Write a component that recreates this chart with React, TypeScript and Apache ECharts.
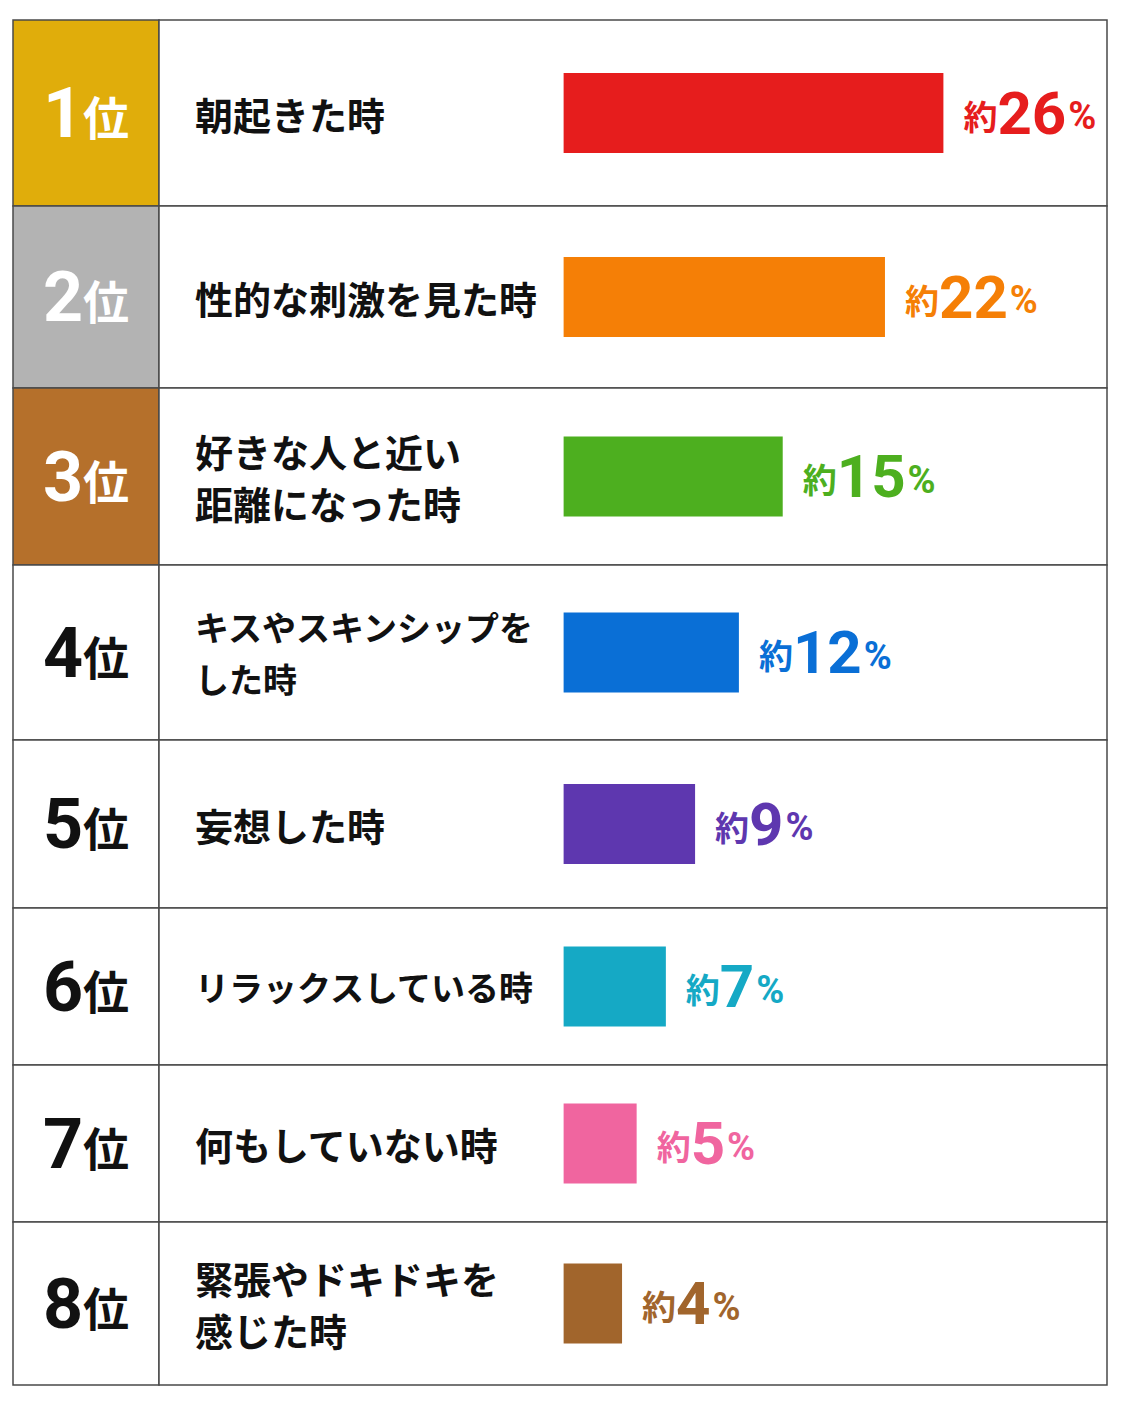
import React, { useEffect, useRef } from "react";
import * as echarts from "echarts";

// ---- data ----
const ranks = ["1", "2", "3", "4", "5", "6", "7", "8"];
const rankSuffix = "位";
const categories = [
  "朝起きた時",
  "性的な刺激を見た時",
  "好きな人と近い\n距離になった時",
  "キスやスキンシップを\nした時",
  "妄想した時",
  "リラックスしている時",
  "何もしていない時",
  "緊張やドキドキを\n感じた時",
];
const values = [26, 22, 15, 12, 9, 7, 5, 4];
const valuePrefix = "約";
const valueSuffix = "%";

// ---- styles ----
const barColors = ["#E61D1D", "#F57F06", "#4DAF1F", "#0A6FD6", "#5E37AF", "#15A9C5", "#F0659F", "#A1652C"];
const rankFill = ["#E0AD0B", "#B3B3B3", "#B5702B", "#FFFFFF", "#FFFFFF", "#FFFFFF", "#FFFFFF", "#FFFFFF"];
const rankText = ["#FFFFFF", "#FFFFFF", "#FFFFFF", "#111111", "#111111", "#111111", "#111111", "#111111"];
const rowEdges = [20, 206, 388, 565, 740, 908, 1065, 1222, 1385];

const JP = "'Noto Sans CJK JP', 'Noto Sans', sans-serif";
const NUM = "Roboto, 'Noto Sans', sans-serif";
const BORDER = "#4a4a4a";

export default function App() {
  const ref = useRef<HTMLDivElement>(null);
  useEffect(() => {
    document.body.style.margin = "0";
    const chart = echarts.init(ref.current!, null, { renderer: "svg" });
    const grid: any[] = [];
    const xAxis: any[] = [];
    const yAxis: any[] = [];
    const series: any[] = [];
    categories.forEach((cat, i) => {
      const top = rowEdges[i];
      const height = rowEdges[i + 1] - rowEdges[i];
      // rank cell grid
      grid.push({
        left: 13, width: 146, top, height, show: true,
        backgroundColor: rankFill[i], borderColor: BORDER, borderWidth: 1.5,
      });
      // main grid
      grid.push({
        left: 159, width: 948, top, height, show: true,
        backgroundColor: "#FFFFFF", borderColor: BORDER, borderWidth: 1.5,
      });
      const rg = i * 2;
      const mg = i * 2 + 1;
      xAxis.push({ type: "value", gridIndex: rg, min: 0, max: 1, show: false });
      xAxis.push({ type: "value", gridIndex: mg, min: -27.7, max: 37.2, show: false });
      yAxis.push({
        type: "category", gridIndex: rg, data: [ranks[i]],
        axisLine: { show: false }, axisTick: { show: false }, splitLine: { show: false },
        axisLabel: {
          inside: true, margin: 73, align: "center", interval: 0,
          formatter: (v: string) => `{d|${v}}{w|${rankSuffix}}`,
          rich: {
            d: { fontSize: 70, fontWeight: "bold", fontFamily: NUM, color: rankText[i] },
            w: { fontSize: 46, fontWeight: "bold", fontFamily: JP, color: rankText[i], verticalAlign: "bottom", padding: [0, 0, 10, 0] },
          },
        },
      });
      yAxis.push({
        type: "category", gridIndex: mg, data: [cat],
        axisLine: { show: false }, axisTick: { show: false }, splitLine: { show: false },
        axisLabel: {
          inside: true, margin: 36, align: "left", interval: 0,
          formatter: (v: string) => {
            const lines = v.split("\n");
            const longest = Math.max(...lines.map((l) => l.length));
            const key = longest > 9 ? "s" : "n";
            return lines.map((l) => `{${key}|${l}}`).join("\n");
          },
          rich: {
            n: { fontSize: 38, fontWeight: "bold", fontFamily: JP, color: "#111111", lineHeight: 52 },
            s: { fontSize: 34, fontWeight: "bold", fontFamily: JP, color: "#111111", lineHeight: 52 },
          },
        },
      });
      series.push({
        type: "bar", xAxisIndex: mg, yAxisIndex: mg, data: [values[i]], barWidth: 80,
        itemStyle: { color: barColors[i] },
        label: {
          show: true, position: "right", distance: 20,
          formatter: (p: any) => `{a|${valuePrefix}}{b|${p.value}}{c|${valueSuffix}}`,
          rich: {
            a: { fontSize: 34, fontWeight: "bold", fontFamily: JP, color: barColors[i], verticalAlign: "bottom", padding: [0, 0, 11, 0] },
            b: { fontSize: 60, fontWeight: "bold", fontFamily: NUM, color: barColors[i] },
            c: { fontSize: 38, fontWeight: "bold", fontFamily: NUM, color: barColors[i], verticalAlign: "bottom", padding: [0, 0, 8, 2] },
          },
        },
      });
    });
    chart.setOption({
      animation: false,
      backgroundColor: "#FFFFFF",
      grid, xAxis, yAxis, series,
    });
    return () => chart.dispose();
  }, []);
  return <div ref={ref} style={{ width: 1122, height: 1402 }} />;
}
